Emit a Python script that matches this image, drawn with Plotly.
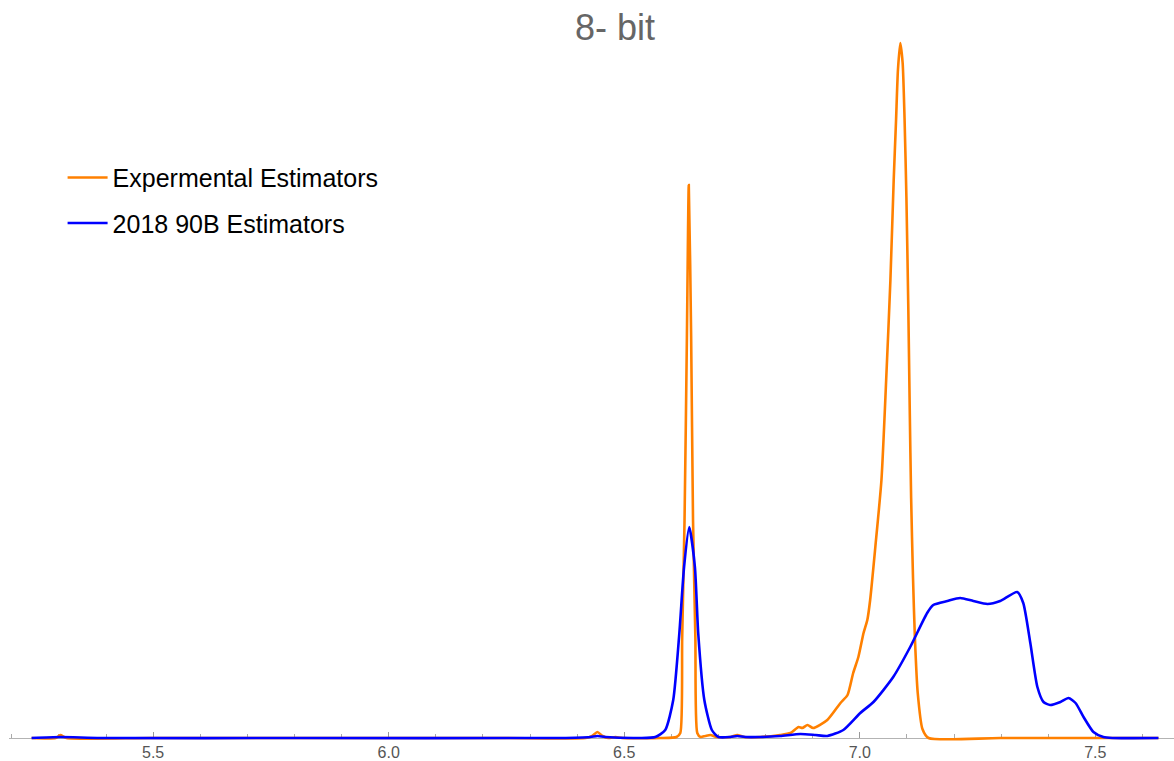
import plotly.graph_objects as go

# ---- data (x = estimator value, y = density) ----
orange_x = [5.242, 5.293, 5.303, 5.316, 5.494, 5.813, 6.237, 6.418, 6.432, 6.443, 6.454, 6.466,
            6.481, 6.496, 6.577, 6.611, 6.619, 6.623, 6.628, 6.633, 6.637, 6.642, 6.646, 6.651,
            6.655, 6.662, 6.672, 6.683, 6.696, 6.725, 6.740, 6.755, 6.789, 6.831, 6.853, 6.870,
            6.878, 6.889, 6.901, 6.931, 6.959, 6.974, 6.986, 6.997, 7.008, 7.016, 7.022, 7.033,
            7.046, 7.056, 7.065, 7.072, 7.077, 7.081, 7.086, 7.091, 7.095, 7.099, 7.103, 7.106,
            7.109, 7.113, 7.117, 7.123, 7.133, 7.146, 7.298, 7.634]
orange_y = [0, 0, 0.06, 0, 0, 0, 0, 0, 0.04, 0.12, 0.04, 0,
            0.02, 0, 0, 0.02, 0.1, 2.0, 4.36, 8.02, 11.06, 8.02, 4.36, 2.0,
            0.1, 0.02, 0.04, 0.06, 0.02, 0.02, 0.06, 0.02, 0.02, 0.06, 0.1, 0.22,
            0.2, 0.26, 0.2, 0.36, 0.7, 0.86, 1.3, 1.62, 2.1, 2.36, 2.76, 3.82,
            5.16, 7.16, 9.16, 11.16, 12.36, 13.36, 13.9, 13.5, 12.4, 10.8, 8.6, 6.6,
            4.8, 3.2, 2.0, 0.9, 0.18, 0, 0, 0]

blue_x = [5.242, 5.303, 5.388, 5.813, 6.364, 6.428, 6.443, 6.460, 6.534, 6.566, 6.587, 6.604,
          6.617, 6.627, 6.638, 6.650, 6.657, 6.670, 6.686, 6.700, 6.725, 6.740, 6.757, 6.789,
          6.831, 6.874, 6.906, 6.931, 6.965, 7.001, 7.029, 7.071, 7.107, 7.143, 7.156, 7.186,
          7.213, 7.241, 7.271, 7.298, 7.334, 7.347, 7.362, 7.377, 7.390, 7.404, 7.426, 7.443,
          7.458, 7.475, 7.496, 7.517, 7.536, 7.634]
blue_y = [0, 0.02, 0, 0, 0, 0.02, 0.04, 0.02, 0, 0.02, 0.16, 0.76,
          2.1, 3.42, 4.22, 3.42, 2.1, 0.76, 0.16, 0.02, 0.02, 0.04, 0.02, 0.02,
          0.04, 0.08, 0.06, 0.04, 0.16, 0.5, 0.72, 1.22, 1.82, 2.5, 2.66, 2.74,
          2.8, 2.74, 2.68, 2.74, 2.92, 2.7, 1.9, 1.02, 0.72, 0.66, 0.72, 0.8,
          0.7, 0.42, 0.12, 0.02, 0, 0]

series_names = ["Expermental Estimators", "2018 90B Estimators"]
tick_vals = [5.5, 6.0, 6.5, 7.0, 7.5]
tick_text = ["5.5", "6.0", "6.5", "7.0", "7.5"]
title_text = "8- bit"

W, H = 1174, 761
T, B = 30, 18
y_lo, y_hi = -0.1, 14.16
zero_pos = (0 - y_lo) / (y_hi - y_lo)

fig = go.Figure()
fig.add_trace(go.Scatter(x=orange_x, y=orange_y, mode="lines", name=series_names[0],
                         legendgroup="a",
                         line=dict(color="rgb(255,128,0)", width=2.6, shape="spline", smoothing=0.6)))
fig.add_trace(go.Scatter(x=blue_x, y=blue_y, mode="lines", name=series_names[1],
                         legendgroup="b",
                         line=dict(color="rgb(0,0,255)", width=2.6, shape="spline", smoothing=0.6)))

fig.update_layout(
    width=W, height=H,
    margin=dict(l=9, r=0, t=T, b=B),
    paper_bgcolor="white", plot_bgcolor="white",
    font=dict(family="Liberation Sans, Arial, sans-serif", color="#000"),
    title=dict(text=title_text, x=615 / W, xref="container", xanchor="center",
               y=1 - 27 / H, yref="container", yanchor="middle",
               font=dict(size=36, color="#666666", family="Liberation Sans, Arial, sans-serif")),
    showlegend=True,
    legend=dict(x=0.046, y=0.825, xanchor="left", yanchor="top",
                bgcolor="rgba(0,0,0,0)", borderwidth=0,
                font=dict(size=25, color="#000"), tracegroupgap=10, itemwidth=40),
    xaxis=dict(range=[5.194, 7.667], anchor="free", position=zero_pos,
               showgrid=False, zeroline=False, layer="below traces",
               showline=True, linecolor="#b3b3b3", linewidth=1.3,
               tickmode="array", tickvals=tick_vals, ticktext=tick_text,
               ticks="inside", ticklen=6, tickwidth=1, tickcolor="#999999",
               tickfont=dict(size=16, color="#555555"),
               minor=dict(dtick=0.1, tick0=5.0, ticks="inside", ticklen=4,
                          tickwidth=1, tickcolor="#aaaaaa", showgrid=False)),
    yaxis=dict(range=[y_lo, y_hi], visible=False, showgrid=False, zeroline=False),
)

fig.write_html("out.html")
